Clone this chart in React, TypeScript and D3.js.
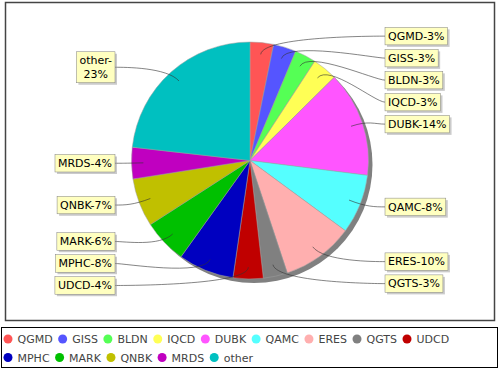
import React, { useEffect, useRef } from "react";
import * as d3 from "d3";

const names = ["QGMD", "GISS", "BLDN", "IQCD", "DUBK", "QAMC", "ERES", "QGTS", "UDCD", "MPHC", "MARK", "QNBK", "MRDS", "other"];
const shares = [3.2, 3.1, 2.9, 3.4, 14.4, 8.1, 9.8, 3.3, 4.1, 7.6, 6.0, 6.6, 4.3, 23.2];
const colors = ["#ff5555", "#5555ff", "#55ff55", "#ffff55", "#ff55ff", "#55ffff", "#ffafaf", "#808080", "#c00000", "#0000c0", "#00c000", "#c0c000", "#c000c0", "#00c0c0"];
// labels that wrap onto two lines
const wrappedLabels = ["other"];

type Slice = { name: string; value: number; color: string };

export default function App() {
  const ref = useRef<SVGSVGElement>(null);

  useEffect(() => {
    if (!ref.current) return;
    const width = 500;
    const height = 370;
    const cx = 250;
    const cy = 160.5;
    const R = 118.5;
    const linkR = 125;
    const labelGap = 10;
    const lineH = 13.5;
    const font = "'DejaVu Sans', sans-serif";

    const svg = d3.select(ref.current);
    svg.selectAll("*").remove();

    const data: Slice[] = names.map((name, i) => ({ name, value: shares[i], color: colors[i] }));
    const total = d3.sum(shares);

    svg.append("rect").attr("width", width).attr("height", height).attr("fill", "#fff");

    // plot outline
    svg
      .append("rect")
      .attr("x", 5.5)
      .attr("y", 2.5)
      .attr("width", 489)
      .attr("height", 318)
      .attr("fill", "#fff")
      .attr("stroke", "#444")
      .attr("stroke-width", 1.5);

    const pie = d3
      .pie<Slice>()
      .sort(null)
      .value((d) => d.value);
    const arcs = pie(data);
    const arc = d3.arc<d3.PieArcDatum<Slice>>().innerRadius(0).outerRadius(R);

    const g = svg.append("g").attr("transform", `translate(${cx},${cy})`);

    // shadow
    g.append("circle").attr("cx", 4).attr("cy", 4).attr("r", R).attr("fill", "#808080");

    g.selectAll("path.slice")
      .data(arcs)
      .enter()
      .append("path")
      .attr("class", "slice")
      .attr("d", arc)
      .attr("fill", (d) => d.data.color)
      .attr("stroke", "#a0a0a0")
      .attr("stroke-width", 0.5);

    // labels
    const labels = arcs.map((a) => {
      const theta = (a.startAngle + a.endAngle) / 2;
      const pct = Math.round((a.data.value / total) * 100);
      const lines = wrappedLabels.includes(a.data.name)
        ? [`${a.data.name}-`, `${pct}%`]
        : [`${a.data.name}-${pct}%`];
      return {
        theta,
        lines,
        right: Math.sin(theta) >= 0,
        naturalY: cy - linkR * Math.cos(theta),
        y: cy - linkR * Math.cos(theta),
        h: lines.length * lineH + 4,
      };
    });

    const minGap = 4.5;
    const rightLabels = labels.filter((l) => l.right).sort((a, b) => a.naturalY - b.naturalY);
    for (let i = 1; i < rightLabels.length; i++) {
      const prev = rightLabels[i - 1];
      const cur = rightLabels[i];
      cur.y = Math.max(cur.naturalY, prev.y + (prev.h + cur.h) / 2 + minGap);
    }
    const leftLabels = labels.filter((l) => !l.right).sort((a, b) => b.naturalY - a.naturalY);
    for (let i = 1; i < leftLabels.length; i++) {
      const prev = leftLabels[i - 1];
      const cur = leftLabels[i];
      cur.y = Math.min(cur.naturalY, prev.y - (prev.h + cur.h) / 2 - minGap);
    }

    const linkLayer = svg.append("g");
    const labelLayer = svg.append("g");

    labels.forEach((l) => {
      const s = Math.sin(l.theta);
      const c = Math.cos(l.theta);
      const anchorX = l.right ? cx + linkR : cx - linkR;
      const targetX = l.right ? anchorX + labelGap : anchorX - labelGap;
      const elbowX = cx + linkR * s;
      const elbowY = cy - linkR * c;
      const linkX = cx + R * 0.9 * s;
      const linkY = cy - R * 0.9 * c;
      const path = d3.path();
      path.moveTo(targetX, l.y);
      path.bezierCurveTo(anchorX, l.y, elbowX, elbowY, linkX, linkY);
      linkLayer
        .append("path")
        .attr("d", path.toString())
        .attr("fill", "none")
        .attr("stroke", "#333")
        .attr("stroke-width", 0.6);

      const box = labelLayer.append("g");
      const texts = l.lines.map((line) =>
        box
          .append("text")
          .attr("font-family", font)
          .attr("font-size", 11)
          .attr("fill", "#000")
          .attr("text-anchor", "middle")
          .text(line),
      );
      const tw = d3.max(texts, (t) => (t.node() as SVGTextElement).getComputedTextLength()) || 0;
      const w = tw + 6;
      const x0 = l.right ? targetX : targetX - w;
      const y0 = l.y - l.h / 2;
      texts.forEach((t, i) => {
        t.attr("x", x0 + w / 2).attr("y", y0 + 2 + lineH * i + 10.5);
      });
      box
        .insert("rect", "text")
        .attr("x", x0 + 2)
        .attr("y", y0 + 2)
        .attr("width", w)
        .attr("height", l.h)
        .attr("fill", "rgba(151,151,151,0.5)");
      box
        .insert("rect", "text")
        .attr("x", x0)
        .attr("y", y0)
        .attr("width", w)
        .attr("height", l.h)
        .attr("fill", "#ffffc0")
        .attr("stroke", "#808080")
        .attr("stroke-width", 0.5);
    });

    // legend
    svg
      .append("rect")
      .attr("x", 1.5)
      .attr("y", 327.5)
      .attr("width", 496)
      .attr("height", 40)
      .attr("fill", "#fff")
      .attr("stroke", "#000");

    let x = 3.5;
    let row = 0;
    const trail = 5.5;
    data.forEach((d) => {
      const item = svg.append("g");
      const t = item
        .append("text")
        .attr("font-family", font)
        .attr("font-size", 11)
        .attr("fill", "#444")
        .text(d.name);
      const tw = (t.node() as SVGTextElement).getComputedTextLength();
      const itemW = 14 + tw + trail;
      if (x + itemW - trail > 496) {
        x = 3.5;
        row++;
      }
      const yc = 339 + row * 18.5;
      item.append("circle").attr("cx", x + 4.5).attr("cy", yc).attr("r", 4.5).attr("fill", d.color);
      t.attr("x", x + 14).attr("y", yc + 4);
      x += itemW;
    });
  }, []);

  return (
    <svg
      ref={ref}
      width={500}
      height={370}
      style={{ position: "absolute", left: 0, top: 0, display: "block" }}
    />
  );
}
